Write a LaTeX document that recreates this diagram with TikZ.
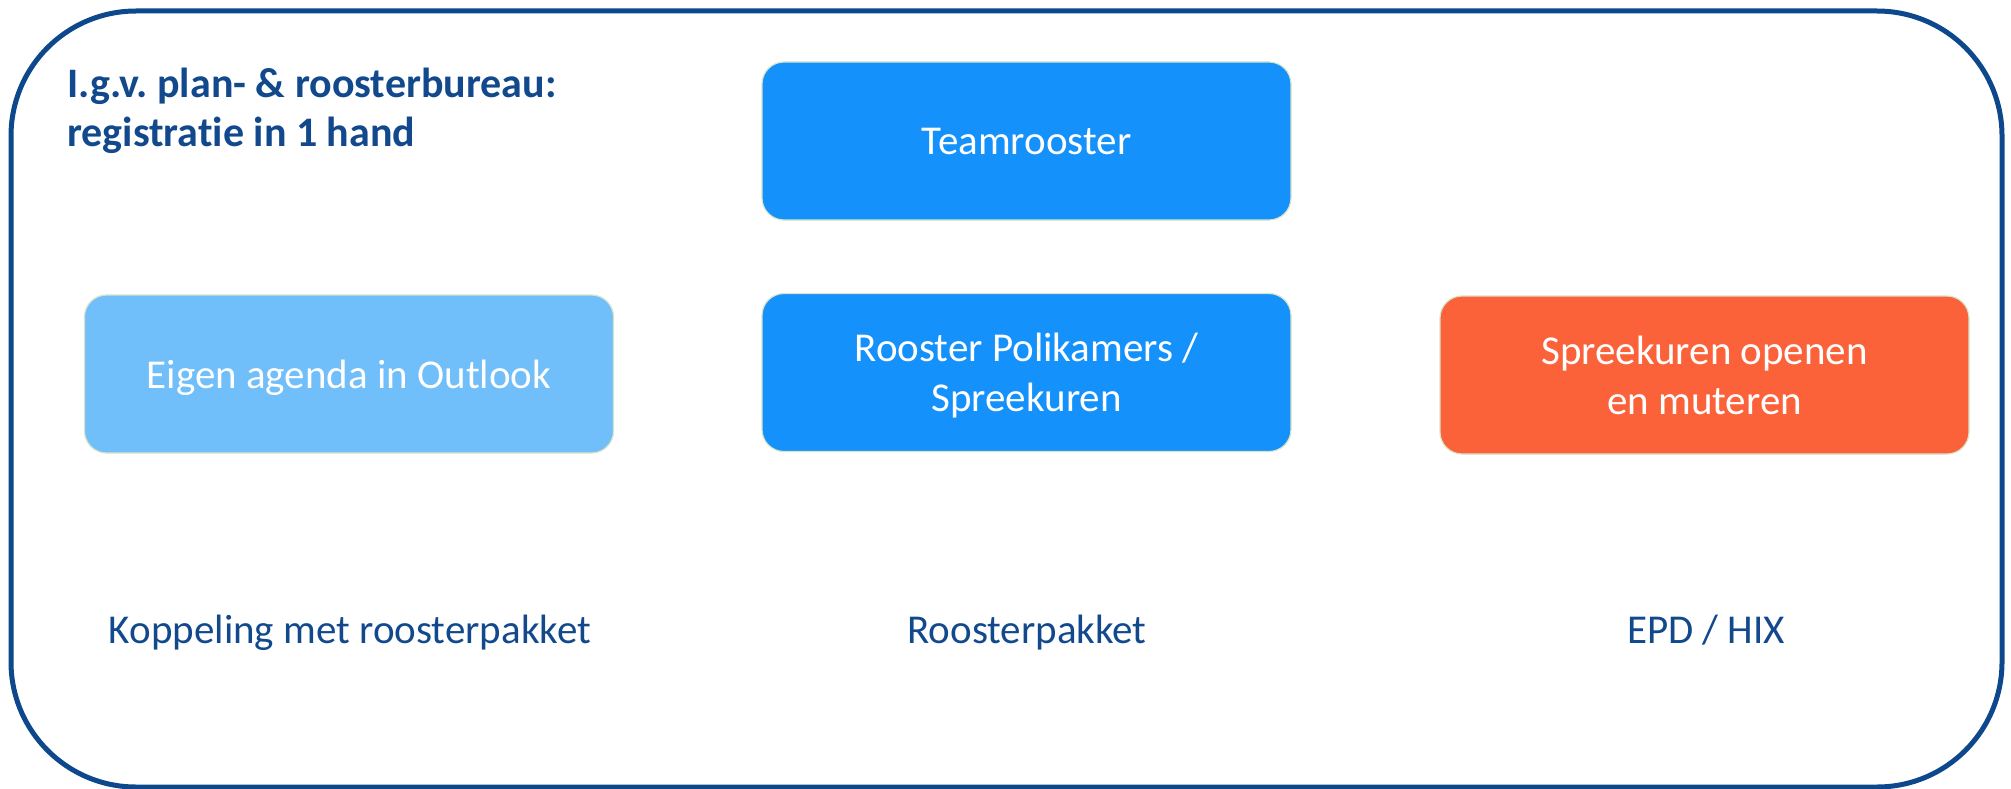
\documentclass[tikz,border=0pt]{standalone}
\usepackage{fontspec}
\setmainfont{Carlito}[RawFeature=-liga]
\frenchspacing
\definecolor{frameblue}{RGB}{13,71,140}
\definecolor{textblue}{RGB}{18,73,140}
\definecolor{midblue}{RGB}{20,145,250}
\definecolor{lightblue}{RGB}{112,190,250}
\definecolor{orangered}{RGB}{252,98,58}
\definecolor{paleedge}{RGB}{214,228,200}
\begin{document}
\begin{tikzpicture}[x=1pt,y=-1pt,
  box/.style={rectangle,rounded corners=22pt,draw=paleedge,line width=1.2pt,
    minimum width=529pt,minimum height=158pt,text=white,align=center,
    font=\fontsize{41}{50}\selectfont,inner sep=0pt,text depth=0pt},
  lbl/.style={text=textblue,font=\fontsize{41}{50}\selectfont,anchor=base,inner sep=0pt}]
\useasboundingbox (0,0) rectangle (2011,789);
\draw[frameblue,line width=5pt,rounded corners=125pt] (11,11) rectangle (2002,787);
\node[anchor=base west,text=textblue,font=\bfseries\fontsize{42}{50}\selectfont,
  align=left,inner sep=0pt] (title) at (67,147) {I.g.v. plan- \& roosterbureau:\\registratie in 1 hand};
\node[box,fill=midblue] (team) at (1026.5,141) {Teamrooster};
\node[box,fill=midblue] (poli) at (1026.5,372.5) {Rooster Polikamers /\\Spreekuren};
\node[box,fill=lightblue] (eigen) at (349,374) {Eigen agenda in Outlook};
\node[box,fill=orangered] (spree) at (1704.5,375) {Spreekuren openen\\en muteren};
\node[lbl] (koppeling) at (350,643) {Koppeling met roosterpakket};
\node[lbl] (pakket) at (1027,643) {Roosterpakket};
\node[lbl] (epd) at (1706,643) {EPD / HIX};
\end{tikzpicture}
\end{document}
